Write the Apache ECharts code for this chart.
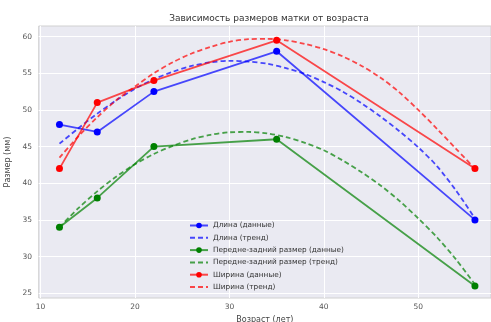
<!DOCTYPE html>
<html><head><meta charset="utf-8">
<script src="https://cdn.jsdelivr.net/npm/echarts@6/dist/echarts.min.js"></script>
<style>html,body{margin:0;padding:0;background:#fff}#c{width:491px;height:322px}</style>
</head><body><div id="c"></div>
<script>
// Data
const ages = [12, 16, 22, 35, 56];
const lengthData = [48, 47, 52.5, 58, 35];
const apData = [34, 38, 45, 46, 26];
const widthData = [42, 51, 54, 59.5, 42];

const trendAges = [12,14,16,18,20,22,24,26,28,30,32,34,36,38,40,42,44,46,48,50,52,54,56];
const lengthTrend = [45.4,47.5,49.5,51.3,52.9,54.2,55.2,56.0,56.5,56.7,56.6,56.3,55.7,54.9,53.8,52.5,50.9,49.1,47.1,44.9,42.3,39.0,35.2];
const apTrend = [34.0,36.6,38.9,40.9,42.6,44.0,45.1,46.0,46.6,46.95,47.0,46.8,46.3,45.5,44.5,43.1,41.5,39.7,37.6,35.2,32.6,29.6,26.2];
const widthTrend = [43.5,46.4,49.0,51.3,53.2,55.0,56.5,57.7,58.6,59.3,59.65,59.7,59.5,59.0,58.3,57.3,56.0,54.4,52.4,50.0,47.4,44.7,42.0];

const xTicks = [10, 20, 30, 40, 50];
const yTicks = [25, 30, 35, 40, 45, 50, 55, 60];

const names = ['Длина (данные)','Длина (тренд)','Передне-задний размер (данные)','Передне-задний размер (тренд)','Ширина (данные)','Ширина (тренд)'];
const titleText = 'Зависимость размеров матки от возраста';
const xName = 'Возраст (лет)';
const yName = 'Размер (мм)';

const pair = (xs, ys) => xs.map((x, i) => [x, ys[i]]);
const FONT = 'DejaVu Sans';

function dataSeries(name, ys, color, alphaColor) {
  return {
    name, type: 'line', data: pair(ages, ys),
    symbol: 'circle', symbolSize: 7,
    lineStyle: {color: alphaColor, width: 1.8},
    itemStyle: {color: color},
    emphasis: {disabled: true}, animation: false
  };
}
function trendSeries(name, ys, alphaColor) {
  return {
    name, type: 'line', data: pair(trendAges, ys), smooth: 0.3,
    showSymbol: false, symbol: 'circle', symbolSize: 0,
    lineStyle: {color: alphaColor, width: 1.8, type: [5, 3]},
    itemStyle: {color: 'rgba(0,0,0,0)', borderWidth: 0},
    emphasis: {disabled: true}, animation: false
  };
}

const chart = echarts.init(document.getElementById('c'), null, {renderer: 'canvas'});
chart.setOption({
  animation: false,
  backgroundColor: '#ffffff',
  title: {
    text: titleText, left: 264, textAlign: 'center', top: 9,
    textStyle: {fontFamily: FONT, fontSize: 9, fontWeight: 'normal', color: '#333'}
  },
  grid: {
    left: 38.7, right: 0, top: 26, bottom: 24,
    outerBoundsMode: 'none', containLabel: false,
    show: true, backgroundColor: '#EAEAF2', borderColor: '#d0d0d0', borderWidth: 1
  },
  xAxis: {
    type: 'value', min: 9.8, max: 57.7,
    name: xName, nameLocation: 'middle', nameGap: 13.5,
    nameTextStyle: {fontFamily: FONT, fontSize: 8, color: '#444'},
    axisLine: {show: false}, axisTick: {show: false, customValues: xTicks},
    axisLabel: {customValues: xTicks, fontFamily: FONT, fontSize: 7.5, color: '#555', margin: 5},
    splitLine: {show: true, lineStyle: {color: '#ffffff', width: 1}}
  },
  yAxis: {
    type: 'value', min: 24.35, max: 61.45,
    name: yName, nameLocation: 'middle', nameGap: 19, nameRotate: 90,
    nameTextStyle: {fontFamily: FONT, fontSize: 8, color: '#444'},
    axisLine: {show: false}, axisTick: {show: false, customValues: yTicks},
    axisLabel: {customValues: yTicks, fontFamily: FONT, fontSize: 7.5, color: '#555', margin: 6.7},
    splitLine: {show: true, lineStyle: {color: '#ffffff', width: 1}}
  },
  legend: {
    orient: 'vertical', left: 184, top: 217,
    itemWidth: 18, itemHeight: 7, itemGap: 5.3,
    textStyle: {fontFamily: FONT, fontSize: 7.3, color: '#333'},
    data: names
  },
  series: [
    dataSeries(names[0], lengthData, '#0000ff', 'rgba(0,0,255,0.7)'),
    trendSeries(names[1], lengthTrend, 'rgba(0,0,255,0.7)'),
    dataSeries(names[2], apData, '#008000', 'rgba(0,128,0,0.7)'),
    trendSeries(names[3], apTrend, 'rgba(0,128,0,0.7)'),
    dataSeries(names[4], widthData, '#ff0000', 'rgba(255,0,0,0.7)'),
    trendSeries(names[5], widthTrend, 'rgba(255,0,0,0.7)')
  ]
});
</script></body></html>
